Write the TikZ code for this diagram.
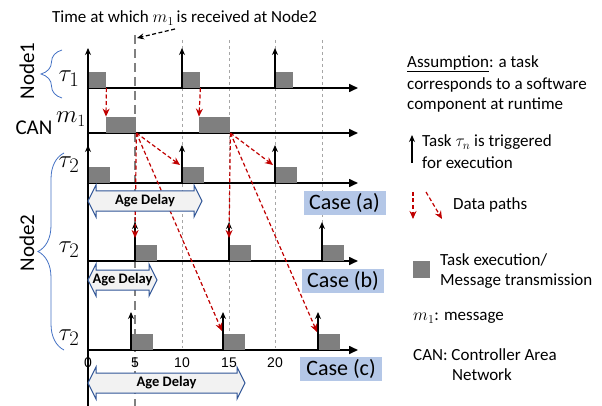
\documentclass[tikz,border=0pt]{standalone}
\usepackage{fontspec}
\setmainfont{Carlito}
\newfontfamily\tickfont{Liberation Sans}
\usetikzlibrary{arrows.meta,decorations.pathreplacing}
\definecolor{execgray}{HTML}{7F7F7F}
\definecolor{datared}{HTML}{C00000}
\definecolor{braceblue}{HTML}{4472C4}
\definecolor{caseblue}{HTML}{B4C7E7}
\definecolor{agefill}{HTML}{F2F2F2}
\definecolor{ageline}{HTML}{2F5597}
\definecolor{gridgray}{HTML}{A6A6A6}
\definecolor{recvgray}{HTML}{808080}
\tikzset{
  axisline/.style={line width=1.6pt,-{Triangle[length=9pt,width=8pt]}},
  trig/.style={line width=1.3pt,-{Stealth[length=7pt,width=6pt]}},
  execbox/.style={fill=execgray,draw=none,inner sep=0pt,anchor=south west},
  datapath/.style={datared,dash pattern=on 4pt off 2.5pt,line width=1.2pt,-{Stealth[length=8pt,width=7pt]}},
  gridline/.style={gridgray,dash pattern=on 3pt off 3pt,line width=0.7pt},
  recvline/.style={recvgray,dash pattern=on 9pt off 5pt,line width=2.6pt},
  casebox/.style={fill=caseblue,font=\fontsize{22}{24}\selectfont,inner sep=0pt,minimum width=82pt,minimum height=24pt},
  legend/.style={font=\fontsize{17}{21}\selectfont,anchor=west,inner sep=0pt},
  taulabel/.style={font=\fontsize{28}{30}\selectfont,inner sep=0pt},
  agetext/.style={font=\bfseries\fontsize{14.5}{16}\selectfont,inner sep=0pt},
  agearrowstyle/.style={draw=ageline,fill=agefill,line width=1pt,line join=miter},
  bracestyle/.style={braceblue,line width=0.8pt,decorate},
  ticklabel/.style={font=\tickfont\fontsize{14}{16}\selectfont,inner sep=0pt},
  bigtext/.style={font=\fontsize{21}{24}\selectfont,inner sep=0pt},
}
\newcommand{\agearrow}[3]{%
  \draw[agearrowstyle] (#1,#3) -- (#1+8,#3-16) -- (#1+8,#3-10) -- (#2-8,#3-10)
    -- (#2-8,#3-16) -- (#2,#3) -- (#2-8,#3+16) -- (#2-8,#3+10) -- (#1+8,#3+10)
    -- (#1+8,#3+16) -- cycle;}
\begin{document}
\begin{tikzpicture}[x=1pt,y=-1pt]
\useasboundingbox (0,0) rectangle (602,406);

% grid lines
\draw[gridline] (182,40) -- (182,348);
\draw[gridline] (229,40) -- (229,348);
\draw[gridline] (275,40) -- (275,348);
\draw[gridline] (322,40) -- (322,262);

% reception line
\draw[recvline] (135,35) -- (135,406);

% title
\node[legend] (title) at (52,18) {Time at which $m_1$\,is received at Node2};
\coordinate (titlearr) at (175,29);
\coordinate (recvtop) at (137,38);
\draw[line width=1.2pt,dash pattern=on 4pt off 2.5pt,-{Stealth[length=7pt,width=6pt]}] (titlearr) -- (recvtop);

% vertical axis
\draw[line width=1.6pt] (88,88) -- (88,406);

% horizontal axes
\draw[axisline] (88,88) -- (358,88);
\draw[axisline] (88,133) -- (358,133);
\draw[axisline] (88,183) -- (358,183);
\draw[axisline] (88,261) -- (358,261);
\draw[axisline] (88,350) -- (358,350);

% execution boxes
\node[execbox,minimum width=17pt,minimum height=16pt] (ta1) at (89,88) {};
\node[execbox,minimum width=17pt,minimum height=16pt] (ta2) at (183,88) {};
\node[execbox,minimum width=17pt,minimum height=16pt] (ta3) at (276,88) {};
\node[execbox,minimum width=30pt,minimum height=16pt] (can1) at (106,133) {};
\node[execbox,minimum width=31pt,minimum height=16pt] (can2) at (199,133) {};
\node[execbox,minimum width=21pt,minimum height=16pt] (xa1) at (89,183) {};
\node[execbox,minimum width=21pt,minimum height=16pt] (xa2) at (183,183) {};
\node[execbox,minimum width=21pt,minimum height=16pt] (xa3) at (276,183) {};
\node[execbox,minimum width=21pt,minimum height=16pt] (xb1) at (136,261) {};
\node[execbox,minimum width=21pt,minimum height=16pt] (xb2) at (230,261) {};
\node[execbox,minimum width=21pt,minimum height=16pt] (xb3) at (323,261) {};
\node[execbox,minimum width=21pt,minimum height=16pt] (xc1) at (132,350) {};
\node[execbox,minimum width=21pt,minimum height=16pt] (xc2) at (224,350) {};
\node[execbox,minimum width=21pt,minimum height=16pt] (xc3) at (319,350) {};

% trigger arrows
\draw[trig] (88,88) -- (88,48);
\draw[trig] (182,88) -- (182,48);
\draw[trig] (275,88) -- (275,48);
\draw[trig] (88,183) -- (88,145);
\draw[trig] (182,183) -- (182,145);
\draw[trig] (275,183) -- (275,145);
\draw[trig] (135,261) -- (135,222);
\draw[trig] (229,261) -- (229,222);
\draw[trig] (322,261) -- (322,222);
\draw[trig] (131,350) -- (131,312);
\draw[trig] (223,350) -- (223,312);
\draw[trig] (318,350) -- (318,312);

% data paths
\draw[datapath] (ta1.south east) -- (can1.north west);
\draw[datapath] (ta2.south east) -- (can2.north west);
\coordinate (pa1) at (180,165);
\coordinate (pa2) at (273,165);
\coordinate (pb1) at (135,238);
\coordinate (pb2) at (229,238);
\coordinate (pc1) at (222,331);
\coordinate (pc2) at (317,332);
\draw[datapath] (can1.south east) -- (pa1);
\draw[datapath] (can1.south east) -- (pb1);
\draw[datapath] (can1.south east) -- (pc1);
\draw[datapath] (can2.south east) -- (pa2);
\draw[datapath] (can2.south east) -- (pb2);
\draw[datapath] (can2.south east) -- (pc2);

% age delay arrows
\agearrow{88}{202}{201}
\node[agetext] (agea) at (145,201) {Age Delay};
\agearrow{88}{157}{280}
\node[agetext] (ageb) at (122.5,280) {Age Delay};
\agearrow{88}{245}{383}
\node[agetext] (agec) at (166.5,383) {Age Delay};

% case labels
\node[casebox] (casea) at (344.5,203) {Case (a)};
\node[casebox] (caseb) at (343,280.5) {Case (b)};
\node[casebox] (casec) at (341,368.5) {Case (c)};

% tick labels
\node[ticklabel] (t0) at (88,363) {0};
\node[ticklabel] (t5) at (135,363) {5};
\node[ticklabel] (t10) at (182,363) {10};
\node[ticklabel] (t15) at (229,363) {15};
\node[ticklabel] (t20) at (275,363) {20};

% left labels
\node[bigtext,rotate=90] (node1) at (27,71) {Node1};
\node[bigtext,rotate=90] (node2) at (27,243) {Node2};
\draw[bracestyle,decoration={brace,amplitude=21pt}] (62,98) -- (62,50);
\draw[bracestyle,decoration={brace,amplitude=26pt}] (64,350) -- (64,153);
\node[taulabel] (tau1) at (69,79) {$\tau_1$};
\node[taulabel] (tau2a) at (69,165) {$\tau_2$};
\node[taulabel] (tau2b) at (69,250) {$\tau_2$};
\node[taulabel] (tau2c) at (69,338) {$\tau_2$};
\node[bigtext] (canl) at (34,128) {CAN};
\node[taulabel,font=\fontsize{24}{26}\selectfont] (m1l) at (71,119) {$m_1$};

% legend
\node[legend] (as1) at (407,64) {\underline{Assumption}: a task};
\node[legend] (as2) at (407,85) {corresponds to a software};
\node[legend] (as3) at (407,105) {component at runtime};
\coordinate (lgtrigb) at (412,163);
\coordinate (lgtrigt) at (412,135);
\draw[line width=1.1pt,-{Stealth[length=7pt,width=6pt]}] (lgtrigb) -- (lgtrigt);
\node[legend] (lt1) at (422,142) {Task $\tau_n$ is triggered};
\node[legend] (lt2) at (422,163) {for execution};
\coordinate (ld1s) at (413,192);
\coordinate (ld1e) at (413,219);
\coordinate (ld2s) at (426,192);
\coordinate (ld2e) at (442,219);
\draw[datapath] (ld1s) -- (ld1e);
\draw[datapath] (ld2s) -- (ld2e);
\node[legend] (ldp) at (453,205) {Data paths};
\node[execbox,minimum width=17pt,minimum height=17pt] (lgsq) at (413,278) {};
\node[legend] (le1) at (440,260) {Task execution/};
\node[legend] (le2) at (440,281) {Message transmission};
\node[legend] (lm) at (413,318) {$m_1$: message};
\node[legend] (lc1) at (413,355) {CAN: Controller Area};
\node[legend] (lc2) at (452,375) {Network};
\end{tikzpicture}
\end{document}
